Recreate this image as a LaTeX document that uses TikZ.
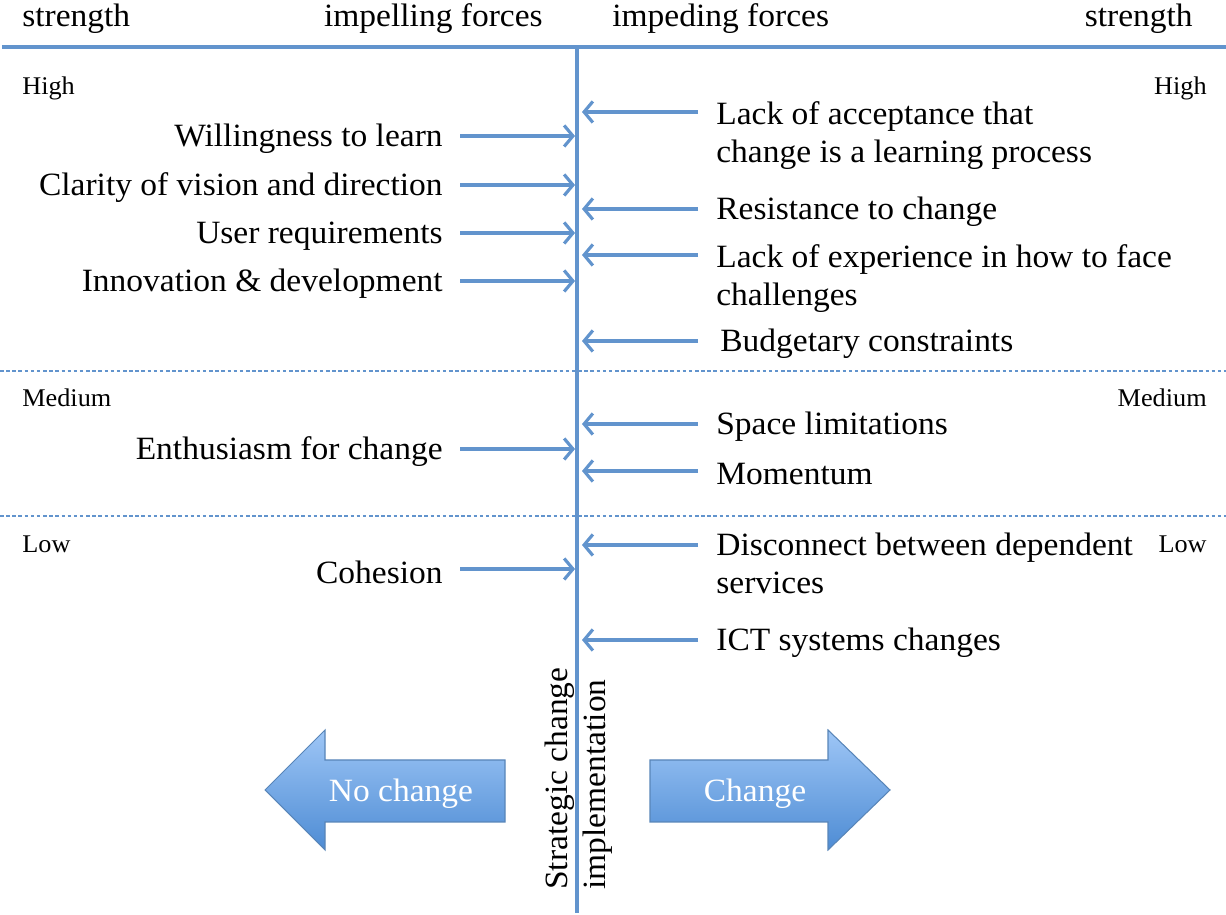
\documentclass[tikz,border=0pt]{standalone}
\usepackage{fontspec}
\setmainfont[FakeStretch=1.03]{Liberation Serif}
\usepackage{tikz}
\usetikzlibrary{arrows.meta}
\definecolor{forceblue}{RGB}{98,148,205}
\definecolor{arrowtop}{RGB}{158,198,246}
\definecolor{arrowbot}{RGB}{78,140,212}

\begin{document}
\begin{tikzpicture}[
  lbl/.style={inner sep=0pt, font=\fontsize{18.5}{21.5}\selectfont, align=left},
  lvl/.style={inner sep=0pt, font=\fontsize{14.5}{16}\selectfont},
  force/.style={draw=forceblue, line width=1.8pt, -{Straight Barb[length=5pt,width=12pt,line width=1.8pt]}},
  bigarrow/.style={draw=forceblue!90!black, line width=0.6pt, top color=arrowtop, bottom color=arrowbot},
  level/.style={draw=forceblue, line width=0.7pt, dash pattern=on 2pt off 1.5pt}
]
\useasboundingbox (0,0) rectangle (24.52,18.28);

% axes
\coordinate (topL) at (0.04,17.34);
\coordinate (topR) at (24.52,17.34);
\coordinate (axTop) at (11.54,17.34);
\coordinate (axBot) at (11.54,0.02);
\draw[forceblue, line width=2.2pt] (topL) -- (topR);
\draw[forceblue, line width=2.6pt] (axTop) -- (axBot);

\node[lbl, anchor=base west] (strL) at (0.44,17.74) {strength};
\node[lbl, anchor=base east] (impel) at (10.86,17.74) {impelling forces};
\node[lbl, anchor=base west] (imped) at (12.24,17.74) {impeding forces};
\node[lbl, anchor=base east] (strR) at (23.86,17.74) {strength};

% levels
\coordinate (m1) at (0,10.86);
\coordinate (m2) at (24.52,10.86);
\coordinate (l1) at (0,7.96);
\coordinate (l2) at (24.52,7.96);
\draw[level] (m1) -- (m2);
\draw[level] (l1) -- (l2);
\node[lvl, anchor=base west] (highL) at (0.44,16.38) {High};
\node[lvl, anchor=base east] (highR) at (24.14,16.38) {High};
\node[lvl, anchor=base west] (medL) at (0.44,10.14) {Medium};
\node[lvl, anchor=base east] (medR) at (24.14,10.14) {Medium};
\node[lvl, anchor=base west] (lowL) at (0.44,7.22) {Low};
\node[lvl, anchor=base east] (lowR) at (24.14,7.22) {Low};

% impelling forces
\node[lbl, anchor=east] (will) at (8.86,15.50) {Willingness to learn};
\node[lbl, anchor=east] (vision) at (8.86,14.52) {Clarity of vision and direction};
\node[lbl, anchor=east] (user) at (8.86,13.56) {User requirements};
\node[lbl, anchor=east] (innov) at (8.86,12.60) {Innovation \& development};
\node[lbl, anchor=east] (enth) at (8.86,9.24) {Enthusiasm for change};
\node[lbl, anchor=east] (coh) at (8.86,6.84) {Cohesion};
\coordinate (willTip) at (11.50,15.56);
\coordinate (visionTip) at (11.50,14.58);
\coordinate (userTip) at (11.50,13.62);
\coordinate (innovTip) at (11.50,12.66);
\coordinate (enthTip) at (11.50,9.30);
\coordinate (cohTip) at (11.50,6.90);
\foreach \n in {will,vision,user,innov,enth,coh}
  \draw[force, shorten <=0.34cm] (\n.east |- \n Tip) -- (\n Tip);

% impeding forces
\coordinate (accTip) at (11.64,16.04);
\coordinate (resTip) at (11.64,14.10);
\coordinate (expTip) at (11.64,13.18);
\coordinate (budTip) at (11.64,11.46);
\coordinate (spaTip) at (11.64,9.80);
\coordinate (momTip) at (11.64,8.86);
\coordinate (discTip) at (11.64,7.38);
\coordinate (ictTip) at (11.64,5.48);
\node[lbl, anchor=north west] (accept) at (14.32,16.26) {Lack of acceptance that\\change is a learning process};
\node[lbl, anchor=west] (resist) at (14.32,14.04) {Resistance to change};
\node[lbl, anchor=north west] (exper) at (14.32,13.39) {Lack of experience in how to face\\challenges};
\node[lbl, anchor=west] (budget) at (14.40,11.40) {Budgetary constraints};
\node[lbl, anchor=west] (space) at (14.32,9.74) {Space limitations};
\node[lbl, anchor=west] (moment) at (14.32,8.80) {Momentum};
\node[lbl, anchor=north west] (disc) at (14.32,7.62) {Disconnect between dependent\\services};
\node[lbl, anchor=west] (ict) at (14.32,5.42) {ICT systems changes};
\foreach \n/\t in {accept/acc,resist/res,exper/exp,space/spa,moment/mom,disc/disc,ict/ict}
  \draw[force, shorten <=0.36cm] (\n.west |- \t Tip) -- (\t Tip);
\draw[force, shorten <=0.44cm] (budget.west |- budTip) -- (budTip);

% outcome
\node[lbl, rotate=90, anchor=west] (strat) at (11.58,0.48) {Strategic change\\implementation};
\draw[bigarrow] (5.30,2.48) -- (6.50,3.68) -- (6.50,3.08) -- (10.10,3.08) -- (10.10,1.84) -- (6.50,1.84) -- (6.50,1.28) -- cycle;
\draw[bigarrow] (13.00,3.08) -- (16.56,3.08) -- (16.56,3.68) -- (17.80,2.48) -- (16.56,1.28) -- (16.56,1.84) -- (13.00,1.84) -- cycle;
\node[lbl, text=white] (nochange) at (8.02,2.40) {No change};
\node[lbl, text=white] (change) at (15.10,2.40) {Change};
\end{tikzpicture}
\end{document}
